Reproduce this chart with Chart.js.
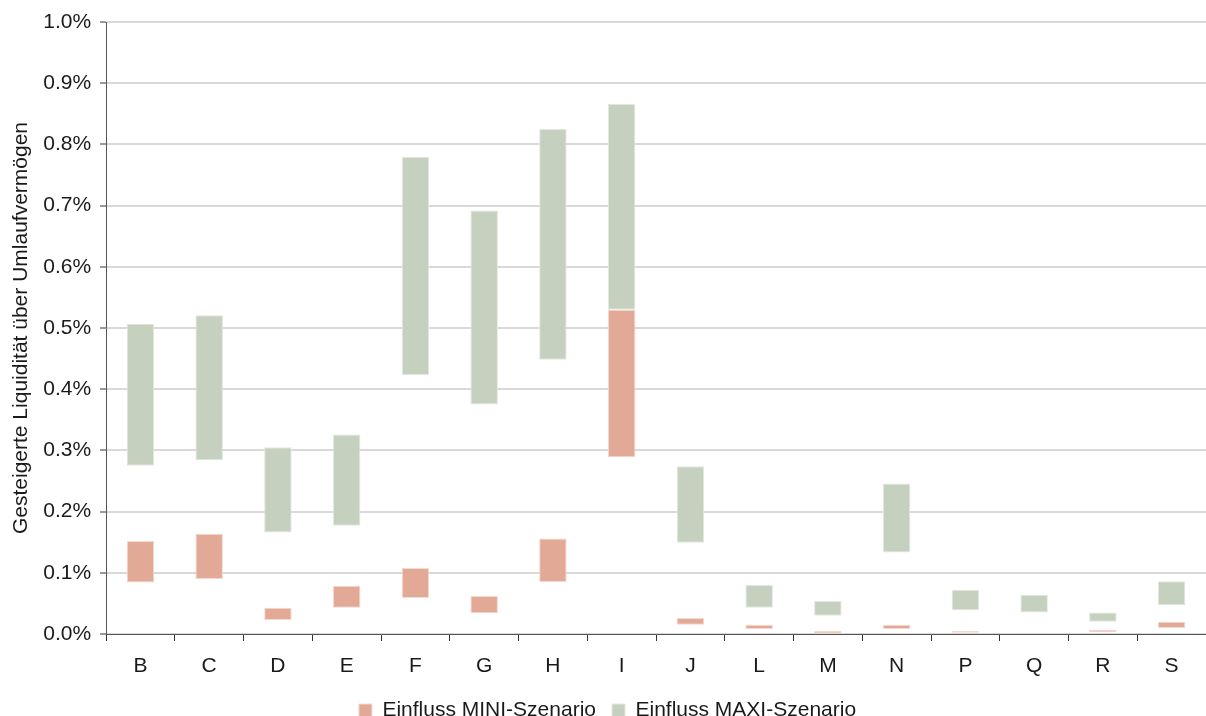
<!DOCTYPE html>
<html>
<head>
<meta charset="utf-8">
<script src="https://cdn.jsdelivr.net/npm/chart.js@4.4.1/dist/chart.umd.min.js"></script>
<style>
  html, body { margin: 0; padding: 0; background: #fff; }
  #wrap { width: 1206px; height: 716px; }
</style>
</head>
<body>
<div id="wrap"><canvas id="liqChart"></canvas></div>
<script>
const categories = ["B", "C", "D", "E", "F", "G", "H", "I", "J", "L", "M", "N", "P", "Q", "R", "S"];

// Einfluss MINI-Szenario: [von, bis] in %
const miniLow  = [0.084, 0.090, 0.023, 0.043, 0.059, 0.034, 0.085, 0.289, 0.015, 0.008, 0.001, 0.008, 0.002, 0.001, 0.003, 0.010];
const miniHigh = [0.152, 0.164, 0.043, 0.079, 0.108, 0.062, 0.156, 0.530, 0.026, 0.015, 0.005, 0.015, 0.005, 0.002, 0.007, 0.020];

// Einfluss MAXI-Szenario: [von, bis] in %
const maxiLow  = [0.275, 0.284, 0.166, 0.177, 0.423, 0.375, 0.448, 0.530, 0.149, 0.043, 0.030, 0.133, 0.039, 0.035, 0.020, 0.047];
const maxiHigh = [0.507, 0.521, 0.305, 0.326, 0.780, 0.692, 0.825, 0.866, 0.274, 0.080, 0.054, 0.246, 0.072, 0.064, 0.035, 0.086];

const yTicks = [0, 0.1, 0.2, 0.3, 0.4, 0.5, 0.6, 0.7, 0.8, 0.9, 1.0];

const font = "'Liberation Sans', Arial, sans-serif";
Chart.defaults.font.family = font;
Chart.defaults.color = "#1a1a1a";

const ctx = document.getElementById("liqChart");

new Chart(ctx, {
  type: "bar",
  data: {
    labels: categories,
    datasets: [
      {
        label: "Einfluss MINI-Szenario",
        data: miniLow.map((v, i) => [v, miniHigh[i]]),
        backgroundColor: "#e3a997",
        borderColor: "#f3d9d0",
        borderWidth: 1,
        borderSkipped: false,
        order: 1,
      },
      {
        label: "Einfluss MAXI-Szenario",
        data: maxiLow.map((v, i) => [v, maxiHigh[i]]),
        backgroundColor: "#c5d0be",
        borderColor: "#e2e8de",
        borderWidth: 1,
        borderSkipped: false,
        order: 2,
      },
    ],
  },
  options: {
    responsive: true,
    maintainAspectRatio: false,
    animation: false,
    layout: {
      padding: { top: 22, right: 0, bottom: -15, left: 9 },
    },
    datasets: {
      bar: {
        barPercentage: 0.4,
        categoryPercentage: 1.0,
      },
    },
    plugins: {
      legend: {
        position: "bottom",
        labels: {
          boxWidth: 13,
          boxHeight: 13,
          padding: 16,
          font: { size: 21, family: font },
          color: "#1a1a1a",
        },
      },
      tooltip: { enabled: false },
    },
    scales: {
      x: {
        stacked: true,
        afterFit: (scale) => {
          scale.height = 50;
        },
        grid: {
          offset: true,
          drawOnChartArea: false,
          drawTicks: true,
          tickLength: 7,
          tickColor: "#333",
        },
        border: { color: "#555", width: 1 },
        ticks: {
          padding: 13,
          font: { size: 21, family: font },
          color: "#1a1a1a",
        },
      },
      y: {
        stacked: false,
        min: 0,
        max: 1.0,
        afterBuildTicks: (axis) => {
          axis.ticks = yTicks.map((v) => ({ value: v }));
        },
        grid: {
          color: "#d9d9d9",
          lineWidth: 2,
          tickColor: "#333",
          tickLength: 6,
          tickWidth: 1,
        },
        border: { color: "#555", width: 1 },
        ticks: {
          padding: 9,
          font: { size: 21, family: font },
          color: "#1a1a1a",
          callback: (v) => v.toFixed(1) + "%",
        },
        title: {
          display: true,
          text: "Gesteigerte Liquidität über Umlaufvermögen",
          font: { size: 21, family: font },
          color: "#1a1a1a",
          padding: { top: 0, bottom: 0 },
        },
      },
    },
  },
});
</script>
</body>
</html>
